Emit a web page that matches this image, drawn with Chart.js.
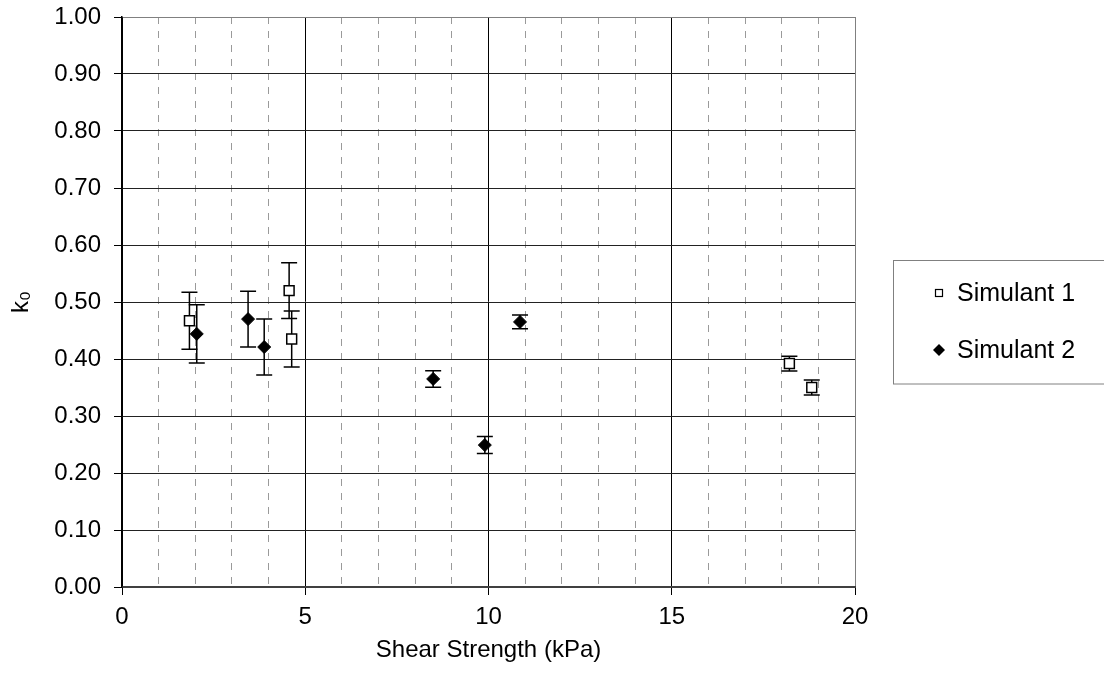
<!DOCTYPE html>
<html><head><meta charset="utf-8">
<script src="https://cdn.jsdelivr.net/npm/chart.js@4/dist/chart.umd.min.js"></script>
<style>html,body{margin:0;padding:0;background:#fff}#wrap{width:1104px;height:686px;position:relative}</style>
</head><body><div id="wrap"><canvas id="c" width="1104" height="686"></canvas></div>
<script>
// ---- data ----
const seriesNames = ["Simulant 1", "Simulant 2"];
const sim1X = [1.84, 4.56, 4.63, 18.21, 18.82];
const sim1Y = [0.467, 0.520, 0.435, 0.392, 0.350];
const sim1Err = [0.050, 0.049, 0.049, 0.013, 0.013];
const sim2X = [2.04, 3.44, 3.88, 8.49, 9.90, 10.86];
const sim2Y = [0.444, 0.470, 0.421, 0.365, 0.249, 0.465];
const sim2Err = [0.051, 0.049, 0.049, 0.0145, 0.015, 0.012];
const xTickValues = [0, 5, 10, 15, 20];
const xMinorValues = [1,2,3,4,6,7,8,9,11,12,13,14,16,17,18,19];
const yTickValues = [0, 0.1, 0.2, 0.3, 0.4, 0.5, 0.6, 0.7, 0.8, 0.9, 1.0];
const xTitle = "Shear Strength (kPa)";
const yTitle = "k\u2080";

const FONT = '"Liberation Sans", Arial, Helvetica, sans-serif';
const FS = 24;
const LFS = 25;
Chart.defaults.font.family = FONT;
Chart.defaults.font.size = FS;
Chart.defaults.color = '#000';

const errs = [sim1Err, sim2Err];

const errorBarPlugin = {
  id: 'errbars',
  beforeDatasetsDraw(chart) {
    const ctx = chart.ctx, xs = chart.scales.x, ys = chart.scales.y;
    ctx.save();
    ctx.strokeStyle = '#000';
    ctx.lineWidth = 1.5;
    chart.data.datasets.forEach((ds, i) => {
      ds.data.forEach((p, j) => {
        const e = errs[i][j];
        const px = xs.getPixelForValue(p.x);
        const yt = ys.getPixelForValue(p.y + e);
        const yb = ys.getPixelForValue(p.y - e);
        const cw = 8;
        ctx.beginPath();
        ctx.moveTo(px, yt); ctx.lineTo(px, yb);
        ctx.moveTo(px - cw, yt); ctx.lineTo(px + cw, yt);
        ctx.moveTo(px - cw, yb); ctx.lineTo(px + cw, yb);
        ctx.stroke();
      });
    });
    ctx.restore();
  }
};

const legendPlugin = {
  id: 'boxlegend',
  afterDraw(chart) {
    const ctx = chart.ctx;
    ctx.save();
    ctx.strokeStyle = '#808080';
    ctx.lineWidth = 1;
    ctx.strokeRect(893.5, 260.5, 230, 123.5);
    const rows = [293, 350];
    chart.data.datasets.forEach((ds, i) => {
      const y = rows[i];
      const mx = 939;
      ctx.lineWidth = 1.2;
      ctx.strokeStyle = '#000';
      if (i === 0) {
        ctx.fillStyle = '#fff';
        ctx.fillRect(mx - 3.5, y - 3.5, 7, 7);
        ctx.strokeRect(mx - 3.5, y - 3.5, 7, 7);
      } else {
        ctx.fillStyle = '#000';
        ctx.beginPath();
        ctx.moveTo(mx, y - 6); ctx.lineTo(mx + 6, y); ctx.lineTo(mx, y + 6); ctx.lineTo(mx - 6, y);
        ctx.closePath(); ctx.fill();
      }
      ctx.fillStyle = '#000';
      ctx.font = LFS + 'px ' + FONT;
      ctx.textBaseline = 'middle';
      ctx.textAlign = 'left';
      ctx.fillText(ds.label, 957, y + 1);
    });
    ctx.restore();
  }
};

new Chart(document.getElementById('c'), {
  type: 'scatter',
  data: {
    datasets: [
      { label: seriesNames[0], data: sim1X.map((x, i) => ({x, y: sim1Y[i]})),
        pointStyle: 'rect', pointRadius: 7, borderColor: '#000', backgroundColor: '#fff', borderWidth: 1.5 },
      { label: seriesNames[1], data: sim2X.map((x, i) => ({x, y: sim2Y[i]})),
        pointStyle: 'rectRot', pointRadius: 6.5, borderColor: '#000', backgroundColor: '#000', borderWidth: 1 }
    ]
  },
  options: {
    responsive: false, animation: false, devicePixelRatio: 1, events: [],
    layout: { padding: { left: 0, top: 17, right: 249, bottom: 0 } },
    plugins: { legend: { display: false }, tooltip: { enabled: false } },
    scales: {
      x2: {
        type: 'linear', position: 'bottom', min: 0, max: 20,
        afterBuildTicks: s => { s.ticks = xMinorValues.map(v => ({value: v})); },
        afterFit: s => { s.height = 0; s.paddingLeft = 0; s.paddingRight = 0; },
        ticks: { display: false },
        grid: { color: '#9a9a9a', lineWidth: 1, drawTicks: false },
        border: { display: false, dash: [7, 7] }
      },
      x: {
        type: 'linear', position: 'bottom', min: 0, max: 20,
        afterBuildTicks: s => { s.ticks = xTickValues.map(v => ({value: v})); },
        afterFit: s => { s.height = 99; s.paddingLeft = 0; s.paddingRight = 0; },
        ticks: { padding: 8, callback: v => String(v), maxRotation: 0 },
        grid: {
          color: c => (c.tick && c.tick.value === 20) ? '#808080' : '#000',
          lineWidth: 1, tickLength: 8, tickColor: '#000'
        },
        border: { color: '#404040', width: 2 },
        title: { display: true, text: xTitle, padding: { top: 0, bottom: 21 } }
      },
      y: {
        type: 'linear', min: 0, max: 1,
        afterBuildTicks: s => { s.ticks = yTickValues.map(v => ({value: v})); },
        afterFit: s => { s.width = 122; s.paddingTop = 0; s.paddingBottom = 0; },
        ticks: { padding: 13, callback: v => Number(v).toFixed(2) },
        grid: {
          color: c => (c.tick && c.tick.value >= 0.999) ? '#808080' : '#222',
          lineWidth: 1, tickLength: 8, tickColor: '#000'
        },
        border: { color: '#000', width: 1.5 },
        title: { display: true, text: yTitle, padding: { top: 7, bottom: 0 } }
      }
    }
  },
  plugins: [errorBarPlugin, legendPlugin]
});
</script>
</body></html>
